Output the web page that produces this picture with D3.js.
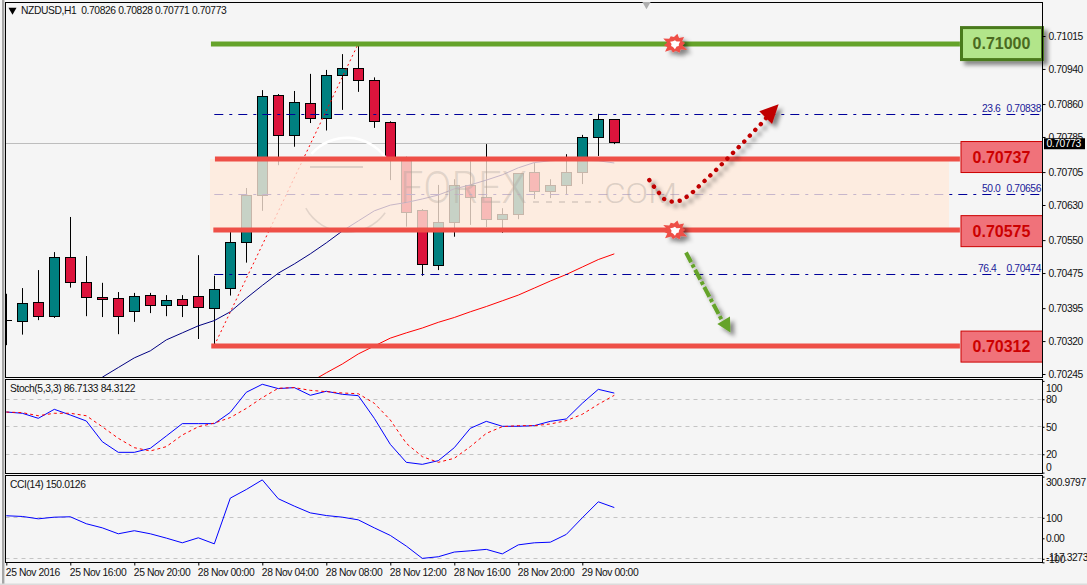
<!DOCTYPE html>
<html>
<head>
<meta charset="utf-8">
<title>NZDUSD H1</title>
<script src="https://cdn.jsdelivr.net/npm/d3@7/dist/d3.min.js"></script>
<style>
  html, body { margin: 0; padding: 0; background: #f5f5f5; overflow: hidden; }
  svg { display: block; }
  text { font-family: "Liberation Sans", Arial, sans-serif; }
  .ax text { font-size: 10.3px; letter-spacing: -0.4px; fill: #111; }
  .cap { font-size: 10.3px; letter-spacing: -0.4px; fill: #111; }
  .ax line { stroke: #000; }
  .ax path { display: none; }
</style>
</head>
<body>
<svg id="chart" width="1087" height="585"></svg>
<script>
// Hourly NZDUSD candles, the first one sits on the left edge of the pane
const opens  = [0.70369,0.70367,0.70411,0.70378,0.70513,0.70456,0.70422,0.70420,0.70390,0.70427,0.70404,0.70417,0.70424,0.70397,0.70443,0.70547,0.70655,0.70882,0.70791,0.70864,0.70830,0.70928,0.70944,0.70916,0.70821,0.70739,0.70620,0.70494,0.70593,0.70677,0.70650,0.70600,0.70611,0.70707,0.70663,0.70677,0.70707,0.70786,0.70826];
const highs  = [0.70430,0.70443,0.70484,0.70525,0.70605,0.70516,0.70455,0.70434,0.70432,0.70432,0.70427,0.70427,0.70518,0.70471,0.70571,0.70671,0.70894,0.70885,0.70892,0.70931,0.70940,0.70976,0.71000,0.70923,0.70823,0.70742,0.70623,0.70678,0.70691,0.70732,0.70771,0.70625,0.70705,0.70728,0.70691,0.70748,0.70792,0.70840,0.70828];
const lows   = [0.70313,0.70337,0.70370,0.70375,0.70444,0.70379,0.70377,0.70338,0.70366,0.70386,0.70379,0.70377,0.70327,0.70312,0.70426,0.70501,0.70619,0.70723,0.70765,0.70819,0.70802,0.70849,0.70890,0.70808,0.70689,0.70583,0.70471,0.70484,0.70560,0.70587,0.70582,0.70569,0.70600,0.70646,0.70648,0.70657,0.70680,0.70744,0.70771];
const closes = [0.70369,0.70408,0.70379,0.70513,0.70456,0.70422,0.70417,0.70379,0.70424,0.70404,0.70415,0.70404,0.70399,0.70440,0.70547,0.70655,0.70880,0.70791,0.70866,0.70830,0.70928,0.70944,0.70916,0.70823,0.70739,0.70617,0.70496,0.70593,0.70677,0.70650,0.70600,0.70611,0.70704,0.70663,0.70677,0.70707,0.70786,0.70827,0.70773];

// Moving averages; each one begins part way along the candles
const fastMaStart = 6;
const fastMa = [0.70240,0.70262,0.70284,0.70300,0.70325,0.70341,0.70357,0.70369,0.70389,0.70420,0.70449,0.70477,0.70498,0.70521,0.70546,0.70573,0.70596,0.70619,0.70632,0.70638,0.70646,0.70655,0.70669,0.70678,0.70689,0.70701,0.70717,0.70729,0.70733,0.70735,0.70734,0.70733,0.70728];
const slowMaStart = 19;
const slowMa = [0.70229,0.70250,0.70270,0.70293,0.70311,0.70329,0.70341,0.70352,0.70365,0.70376,0.70389,0.70401,0.70414,0.70427,0.70443,0.70459,0.70474,0.70491,0.70508,0.70521];

// Stochastic(5,3,3) and CCI(14)
const stochMain = [66.1,64.7,59.2,69,62.8,56.3,33.7,22.1,22.1,26.5,39.9,53.4,53.4,53.4,65.7,87.6,96.3,91.6,92.7,84.3,88.7,85.4,83.9,59.2,30.8,11.2,9,13,27.2,48.3,55.9,50.5,50.5,51.2,55.9,58.5,75.6,90.8,86.71];
const stochSignal = [66,65.4,62,64.7,64.7,62,50,37.4,27.2,23.6,28.3,41,50,54,60,70,81.7,92,92.7,89.7,88.3,86.8,86,75.6,57.4,31.9,17.4,11.2,15.6,28.3,42.8,50.1,51.2,51.2,53,56.7,63.6,74.5,84.31];
const cciValues = [110,106.5,95,103,105,71,51,22,37,22,1,-22,2.4,-27,196,238,285,193,157,124,111,103,90,51,14,-38,-98,-90,-67,-61,-54,-76,-32,-22,-19,19,100,178,150.01];

// Axis ticks and captions
const priceTicks = [0.71015,0.70940,0.70860,0.70785,0.70705,0.70630,0.70550,0.70475,0.70395,0.70320,0.70245];
const stochTicks = [100,80,50,20,0];
const stochGrid = [80,50,20];
const cciTicks = [300.9797,100,0,-100,-117.3273];
const cciGrid = [100,-100];
const dateTickBars = [0,4,8,12,16,20,24,28,32,36];
const dateTickLabels = ["25 Nov 2016","25 Nov 16:00","25 Nov 20:00","28 Nov 00:00","28 Nov 04:00","28 Nov 08:00","28 Nov 12:00","28 Nov 16:00","28 Nov 20:00","29 Nov 00:00"];
const lastPrice = 0.70773;
const titleText = "NZDUSD,H1  0.70826 0.70828 0.70771 0.70773";
const stochTitle = "Stoch(5,3,3) 86.7133 84.3122";
const cciTitle = "CCI(14) 150.0126";

// Fibonacci retracement drawn from the swing low to the swing high
const fibAnchorBars = [13, 22];
const fibAnchorPrices = [0.70312, 0.71000];
const fibPercents = ["23.6","50.0","76.4"];
const fibPrices = [0.70838,0.70656,0.70474];

// Support and resistance levels with the bar they start from
const levelPrices = [0.71000,0.70737,0.70575,0.70312];
const levelStarts = [12.79,13.04,12.94,12.81];
const levelEnd = 59.6;
const zoneBars = [12.73,58.92];
const zonePrices = [0.70737,0.70575];
const burstBar = 41.79;
const burstPrices = [0.71000,0.70575];

// Projected paths as [bar, price]
const upPath = [[40.19,0.70689],[40.48,0.70674],[40.79,0.70660],[41.11,0.70646],[41.59,0.70640],[42.11,0.70642],[42.53,0.70651],[42.92,0.70662],[43.67,0.70688],[44.36,0.70712],[45.04,0.70737],[46.1,0.70776],[47.17,0.70817],[47.6,0.70835]];
const upHead = [[48.27,0.70862],[47.06,0.70846],[47.86,0.70817]];
const downPath = [[42.48,0.70524],[44.72,0.70370]];
const downHead = [[45.26,0.70342],[44.44,0.70361],[45.23,0.70378]];

const svg = d3.select("#chart");
const defs = svg.append("defs");

// Pane rectangles
const paneLeft = 5.5, paneRight = 1042.5;
const mainPane = {top: 2.5, bottom: 377.5};
const stochPane = {top: 379.5, bottom: 473.5};
const cciPane = {top: 475.5, bottom: 562.5};

const x = d3.scaleLinear().domain([0, 38]).range([6.3, 614.3]);
const y = d3.scaleLinear().domain([0.71015, 0.70245]).range([37, 375]);
const yStoch = d3.scaleLinear().domain([0, 100]).range([472.6, 380.9]);
const yCci = d3.scaleLinear().domain([0, 100]).range([538.3, 517.8]);

const shadow = defs.append("filter").attr("id", "soft").attr("x", "-40%").attr("y", "-40%").attr("width", "200%").attr("height", "200%");
shadow.append("feDropShadow").attr("dx", 4).attr("dy", 4).attr("stdDeviation", 2).attr("flood-color", "#000").attr("flood-opacity", 0.45);

[["clipMain", mainPane], ["clipStoch", stochPane], ["clipCci", cciPane]].forEach(([id, p]) => {
  defs.append("clipPath").attr("id", id).append("rect")
    .attr("x", paneLeft).attr("y", p.top).attr("width", paneRight - paneLeft).attr("height", p.bottom - p.top);
});

// Window edge and pane frames
svg.append("rect").attr("x", 2).attr("y", 0).attr("width", 2.4).attr("height", 585).attr("fill", "#a6a6a6");
svg.append("rect").attr("x", 0).attr("y", 583.5).attr("width", 1087).attr("height", 1.5).attr("fill", "#dcdcdc");

const main = svg.append("g").attr("clip-path", "url(#clipMain)");
const snap = v => Math.floor(v) + 0.5;

// Horizontal line at the last traded price
main.append("line").attr("x1", paneLeft).attr("x2", paneRight)
  .attr("y1", snap(y(lastPrice))).attr("y2", snap(y(lastPrice)))
  .attr("stroke", "#bdbdbd");

// Candles
const bars = main.append("g").selectAll("g").data(opens.map((o, i) => ({i, o, h: highs[i], l: lows[i], c: closes[i]}))).join("g");
bars.append("line")
  .attr("x1", d => snap(x(d.i))).attr("x2", d => snap(x(d.i)))
  .attr("y1", d => y(d.h)).attr("y2", d => y(d.l))
  .attr("stroke", "#000");
bars.append("rect")
  .attr("x", d => snap(x(d.i)) - 5)
  .attr("width", 10)
  .attr("y", d => snap(y(Math.max(d.o, d.c))))
  .attr("height", d => Math.max(0.01, Math.round(Math.abs(y(d.o) - y(d.c)))))
  .attr("fill", d => d.c > d.o ? "#008080" : "#dc143c")
  .attr("stroke", "#000");

// Moving averages
const maLine = d3.line().x(d => x(d[0])).y(d => y(d[1]));
main.append("path").attr("d", maLine(fastMa.map((v, k) => [fastMaStart + k, v])))
  .attr("fill", "none").attr("stroke", "#000080");
main.append("path").attr("d", maLine(slowMa.map((v, k) => [slowMaStart + k, v])))
  .attr("fill", "none").attr("stroke", "#ff0000");

// Fibonacci trend line and levels
main.append("path").attr("d", maLine(fibAnchorBars.map((b, k) => [b, fibAnchorPrices[k]])))
  .attr("fill", "none").attr("stroke", "#ff0000").attr("stroke-dasharray", "2 3");
fibPrices.forEach(p => {
  main.append("line").attr("x1", x(fibAnchorBars[0])).attr("x2", 1040)
    .attr("y1", snap(y(p))).attr("y2", snap(y(p)))
    .attr("stroke", "#00009a").attr("stroke-dasharray", "9 6 3 6");
});

// Shaded range between the two nearest levels
main.append("rect")
  .attr("x", x(zoneBars[0])).attr("width", x(zoneBars[1]) - x(zoneBars[0]))
  .attr("y", y(zonePrices[0])).attr("height", y(zonePrices[1]) - y(zonePrices[0]))
  .attr("fill", "rgb(255,233,218)").attr("fill-opacity", 0.78);

// Site mark across the range
const mark = main.append("g");
mark.append("path").attr("d", d3.arc()({innerRadius: 46, outerRadius: 48.5, startAngle: -0.85, endAngle: 0.95}))
  .attr("transform", "translate(347,185)").attr("fill", "#ffffff");
mark.append("path").attr("d", d3.arc()({innerRadius: 46.5, outerRadius: 48, startAngle: 2.2, endAngle: 4.2}))
  .attr("transform", "translate(347,185)").attr("fill", "#b8b0a8").attr("fill-opacity", 0.4);
mark.append("line").attr("x1", 310).attr("x2", 363).attr("y1", 167).attr("y2", 167)
  .attr("stroke", "#b8b0a8").attr("stroke-opacity", 0.45).attr("stroke-width", 2);
mark.append("text").attr("x", 400).attr("y", 203).text("FOREX")
  .attr("textLength", 127).attr("lengthAdjust", "spacingAndGlyphs")
  .style("font-family", "Roboto").style("font-weight", 300).style("font-size", "45px")
  .attr("fill", "#a8a098").attr("fill-opacity", 0.32);
mark.append("line").attr("x1", 533).attr("x2", 592).attr("y1", 202).attr("y2", 202)
  .attr("stroke", "#a8a098").attr("stroke-opacity", 0.35).attr("stroke-width", 2).attr("stroke-dasharray", "6 7");
mark.append("text").attr("x", 596).attr("y", 203).text(".COM")
  .attr("textLength", 81).attr("lengthAdjust", "spacingAndGlyphs")
  .style("font-family", "Roboto").style("font-weight", 300).style("font-size", "27px")
  .attr("fill", "#a8a098").attr("fill-opacity", 0.4);

// Level lines
const levelColor = p => p === 0.71000 ? "#65a32a" : "#ee4f47";
levelPrices.forEach((p, k) => {
  main.append("rect")
    .attr("x", x(levelStarts[k])).attr("width", x(levelEnd) - x(levelStarts[k]))
    .attr("y", Math.round(y(p)) - 2.5).attr("height", 5)
    .attr("fill", levelColor(p));
});

// Bursts sitting on the levels
const burstRadii = [11,7.5,11,7,9,7,12.5,7.5,10,7,9,7,12,7.5,10,7,12,7.5,9,7.5];
const burstOuter = d3.lineRadial().angle((d, k) => k / burstRadii.length * 2 * Math.PI + 0.2).radius(d => d).curve(d3.curveLinearClosed);
const burstInner = [4,3,5.5,3.5,4,3,5.5,3.5,4,3,5,3.5];
const burstCore = d3.lineRadial().angle((d, k) => k / burstInner.length * 2 * Math.PI).radius(d => d).curve(d3.curveLinearClosed);
burstPrices.forEach(p => {
  const g = main.append("g").attr("transform", `translate(${x(burstBar)},${y(p) + 0.5}) scale(1.12,0.95)`).attr("filter", "url(#soft)");
  g.append("path").attr("d", burstOuter(burstRadii)).attr("fill", "#ee4f47");
  g.append("path").attr("d", burstCore(burstInner)).attr("fill", "#ffffff");
});

// Projected moves
const pathLine = d3.line().x(d => x(d[0])).y(d => y(d[1]));
const upGroup = main.append("g").attr("filter", "url(#soft)");
upGroup.append("path").attr("d", pathLine(upPath))
  .attr("fill", "none").attr("stroke", "#c00000").attr("stroke-width", 4.4)
  .attr("stroke-linecap", "round").attr("stroke-dasharray", "0.1 7.9");
upGroup.append("path").attr("d", pathLine(upHead) + "Z").attr("fill", "#c00000");
const downGroup = main.append("g").attr("filter", "url(#soft)");
downGroup.append("path").attr("d", pathLine(downPath))
  .attr("fill", "none").attr("stroke", "#65a32a").attr("stroke-width", 4)
  .attr("stroke-dasharray", "11 2.5 3.5 2.5");
downGroup.append("path").attr("d", pathLine(downHead) + "Z").attr("fill", "#65a32a");

// Fibonacci captions
fibPrices.forEach((p, k) => {
  const ty = snap(y(p)) - 2.5;
  svg.append("text").attr("x", fibPercents[k] === "76.4" ? 978 : 982).attr("y", ty).text(fibPercents[k])
    .attr("class", "cap").style("fill", "#1a1a9a");
  svg.append("text").attr("x", 1041).attr("y", ty).attr("text-anchor", "end").text(d3.format(".5f")(p))
    .attr("class", "cap").style("fill", "#1a1a9a");
});

// Level captions at the right edge
levelPrices.forEach(p => {
  const green = p === 0.71000;
  const cy = y(p) + (green ? -0.5 : p === 0.70737 ? -2 : 1);
  const g = svg.append("g");
  const box = g.append("rect").attr("x", green ? 961.5 : 961).attr("width", green ? 81 : 81.5)
    .attr("y", cy - 15.5).attr("height", green ? 32 : 31)
    .attr("fill", green ? "#b2e58a" : "#f0727a")
    .attr("stroke", green ? "#4a7a1c" : "#cc0000").attr("stroke-width", green ? 3 : 1);
  if (green) box.attr("filter", "url(#soft)");
  g.append("text").attr("x", 1001.5).attr("y", cy + 5.5).attr("text-anchor", "middle")
    .text(d3.format(".5f")(p))
    .style("font-size", "16px").style("font-weight", "bold")
    .attr("fill", green ? "#4a6a20" : "#cc0000");
});

// Indicator panes
const stochG = svg.append("g").attr("clip-path", "url(#clipStoch)");
const cciG = svg.append("g").attr("clip-path", "url(#clipCci)");
const dashed = (g, scale, vals) => vals.forEach(v => {
  g.append("line").attr("x1", paneLeft).attr("x2", paneRight)
    .attr("y1", snap(scale(v))).attr("y2", snap(scale(v)))
    .attr("stroke", "#c4c4c4").attr("stroke-dasharray", "4 4");
});
dashed(stochG, yStoch, stochGrid);
dashed(cciG, yCci, cciGrid);

const stochLine = d3.line().x((d, i) => x(i)).y(d => yStoch(d));
stochG.append("path").attr("d", stochLine(stochMain)).attr("fill", "none").attr("stroke", "#0000ff");
stochG.append("path").attr("d", stochLine(stochSignal)).attr("fill", "none").attr("stroke", "#ff0000").attr("stroke-dasharray", "3 3");
cciG.append("path").attr("d", d3.line().x((d, i) => x(i)).y(d => yCci(d))(cciValues)).attr("fill", "none").attr("stroke", "#0000ff");

// Frames
[mainPane, stochPane, cciPane].forEach(p => {
  svg.append("rect").attr("x", paneLeft).attr("y", p.top).attr("width", paneRight - paneLeft).attr("height", p.bottom - p.top)
    .attr("fill", "none").attr("stroke", "#000");
});

// Price axis
svg.append("g").attr("class", "ax").attr("transform", `translate(${paneRight},-1)`)
  .call(d3.axisRight(y).tickValues(priceTicks).tickSize(3).tickPadding(3).tickFormat(d3.format(".5f")));

// Last price tag
svg.append("rect").attr("x", 1044).attr("y", y(lastPrice) - 5).attr("width", 41).attr("height", 11).attr("fill", "#000");
svg.append("text").attr("x", 1046.5).attr("y", y(lastPrice) + 4).text(d3.format(".5f")(lastPrice))
  .attr("class", "cap").style("fill", "#fff");

// Indicator axes, with the end labels pulled inside their panes
const stochAxis = svg.append("g").attr("class", "ax").attr("transform", `translate(${paneRight},0)`)
  .call(d3.axisRight(yStoch).tickValues(stochTicks).tickSize(2).tickPadding(1.5));
stochAxis.selectAll("text").attr("dy", d => d === 100 ? "1em" : d === 0 ? "-0.25em" : "0.32em");
const cciAxis = svg.append("g").attr("class", "ax").attr("transform", `translate(${paneRight},0)`)
  .call(d3.axisRight(yCci).tickValues(cciTicks).tickSize(2).tickPadding(1.5).tickFormat(d => d === 0 ? "0.00" : String(d)));
cciAxis.selectAll("text").attr("dy", d => d === 300.9797 ? "0.85em" : d === -117.3273 ? "-0.2em" : "0.32em");

// Time axis
const dateAxis = svg.append("g").attr("class", "ax").attr("transform", `translate(0,${cciPane.bottom})`)
  .call(d3.axisBottom(x).tickValues(dateTickBars).tickSize(3).tickPadding(3).tickFormat((d, i) => dateTickLabels[i]));
dateAxis.selectAll("text").attr("text-anchor", "start").attr("dx", -1);

// Chart and indicator captions
svg.append("path").attr("d", d3.symbol().type(d3.symbolTriangle).size(28)()).attr("transform", "translate(12.5,10) rotate(180)").attr("fill", "#000");
svg.append("text").attr("x", 21).attr("y", 14).text(titleText).attr("class", "cap").style("white-space", "pre");
svg.append("text").attr("x", 10).attr("y", 392).text(stochTitle).attr("class", "cap");
svg.append("text").attr("x", 10).attr("y", 488).text(cciTitle).attr("class", "cap");

// Small marker at the top of the main pane
svg.append("path").attr("d", d3.symbol().type(d3.symbolTriangle).size(30)()).attr("transform", "translate(646.5,4.5) rotate(180)").attr("fill", "#b0b0b0");
</script>
</body>
</html>
